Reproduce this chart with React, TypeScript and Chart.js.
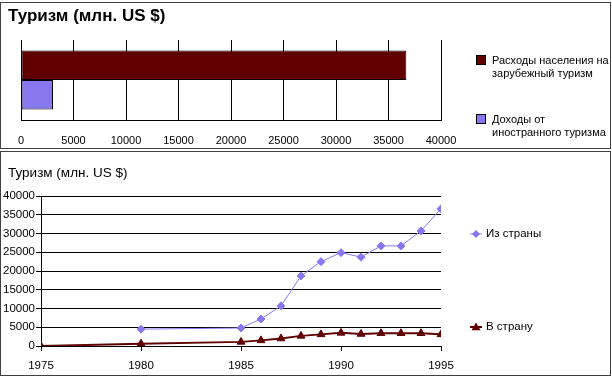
import React, { useEffect, useRef } from "react";
import { Chart, registerables } from "chart.js";

Chart.register(...registerables);

// ---------- data ----------
const TITLE = "Туризм (млн. US $)";

// top chart (horizontal bars)
const BAR_SERIES = [
  ["Расходы населения на", "зарубежный туризм"],
  ["Доходы от", "иностранного туризма"],
];
const BAR_VALUES = [36700, 3050];
const BAR_AXIS_MAX = 40000;
const BAR_AXIS_STEP = 5000;

// bottom chart (lines)
const LINE_SERIES = ["Из страны", "В страну"];
const OUT_YEARS = [1980, 1985, 1986, 1987, 1988, 1989, 1990, 1991, 1992, 1993, 1994, 1995];
const OUT_VALUES = [4500, 4800, 7200, 10700, 18700, 22500, 24900, 23700, 26700, 26700, 30700, 36600];
const IN_YEARS = [1975, 1980, 1985, 1986, 1987, 1988, 1989, 1990, 1991, 1992, 1993, 1994, 1995];
const IN_VALUES = [0, 600, 1100, 1500, 2000, 2700, 3100, 3500, 3200, 3400, 3400, 3400, 3100];
const YEAR_MIN = 1975;
const YEAR_MAX = 1995;
const YEAR_STEP = 5;
const LINE_Y_MAX = 40000;
const LINE_Y_STEP = 5000;

// ---------- style ----------
const FONT = "'Liberation Sans', Arial, Helvetica, sans-serif";
const PURPLE = "#8878f0";
const MAROON = "#600000";
const BORDER = "#404040";

Chart.defaults.font.family = FONT;
Chart.defaults.color = "#000";

function drawMarker(ctx: CanvasRenderingContext2D, style: string, x: number, y: number, r: number, color: string) {
  ctx.beginPath();
  if (style === "rectRot") {
    ctx.moveTo(x, y - r);
    ctx.lineTo(x + r, y);
    ctx.lineTo(x, y + r);
    ctx.lineTo(x - r, y);
  } else {
    ctx.moveTo(x, y - r);
    ctx.lineTo(x + r, y + r * 0.7);
    ctx.lineTo(x - r, y + r * 0.7);
  }
  ctx.closePath();
  ctx.fillStyle = color;
  ctx.fill();
}

function makeDecor(cfg: any) {
  return {
    id: "decor",
    afterDraw(chart: any) {
      const ctx: CanvasRenderingContext2D = chart.ctx;
      ctx.save();
      ctx.fillStyle = "#000";
      ctx.textAlign = "left";
      ctx.textBaseline = "middle";
      ctx.font = cfg.titleFont;
      ctx.fillText(cfg.title, cfg.titleX, cfg.titleY);
      cfg.items.forEach((it: any, i: number) => {
        const ds = chart.data.datasets[i];
        if (it.kind === "box") {
          ctx.fillStyle = ds.backgroundColor;
          ctx.fillRect(it.x, it.y, 10, 10);
          ctx.strokeStyle = "#000";
          ctx.lineWidth = 1;
          ctx.strokeRect(it.x + 0.5, it.y + 0.5, 9, 9);
        } else {
          ctx.strokeStyle = ds.borderColor;
          ctx.lineWidth = ds.borderWidth;
          ctx.beginPath();
          ctx.moveTo(it.x - 6, it.y);
          ctx.lineTo(it.x + 6, it.y);
          ctx.stroke();
          drawMarker(ctx, ds.pointStyle, it.x, it.y, ds.pointRadius, ds.borderColor);
        }
        ctx.fillStyle = "#000";
        ctx.font = cfg.legendFont;
        ctx.textBaseline = "middle";
        it.lines.forEach((t: string, k: number) => {
          ctx.fillText(t, it.textX, it.textY + k * cfg.lineGap);
        });
      });
      ctx.restore();
    },
  };
}

function BarChart() {
  const ref = useRef<HTMLCanvasElement>(null);
  useEffect(() => {
    const chart = new Chart(ref.current!, {
      type: "bar",
      data: {
        labels: [""],
        datasets: [
          {
            label: BAR_SERIES[0].join(" "),
            data: [BAR_VALUES[0]],
            backgroundColor: MAROON,
            borderColor: "#000",
            borderWidth: 1,
            borderSkipped: false,
            categoryPercentage: 0.74,
            barPercentage: 1,
          },
          {
            label: BAR_SERIES[1].join(" "),
            data: [BAR_VALUES[1]],
            backgroundColor: PURPLE,
            borderColor: "#000",
            borderWidth: 1,
            borderSkipped: false,
            categoryPercentage: 0.74,
            barPercentage: 1,
          },
        ],
      },
      options: {
        indexAxis: "y",
        responsive: false,
        animation: false,
        layout: { padding: { left: 21, right: 171, top: 40, bottom: 0 } },
        plugins: {
          legend: { display: false },
          title: { display: false },
          tooltip: { enabled: false },
        },
        scales: {
          x: {
            min: 0,
            max: BAR_AXIS_MAX,
            ticks: {
              stepSize: BAR_AXIS_STEP,
              padding: 14,
              color: "#000",
              font: { size: 11 },
              maxRotation: 0,
              callback: (v: any) => String(v),
            },
            grid: { color: "#000", drawTicks: false },
            border: { color: "#000" },
            afterFit: (s: any) => {
              s.height = 30;
            },
          },
          y: { display: false },
        },
      },
      plugins: [
        makeDecor({
          title: TITLE,
          titleFont: `bold 17px ${FONT}`,
          titleX: 8,
          titleY: 16,
          legendFont: `11px ${FONT}`,
          lineGap: 13,
          items: [
            { kind: "box", x: 476, y: 55, textX: 492, textY: 61, lines: BAR_SERIES[0] },
            { kind: "box", x: 476, y: 114, textX: 492, textY: 120, lines: BAR_SERIES[1] },
          ],
        }),
      ],
    } as any);
    return () => chart.destroy();
  }, []);
  return (
    <canvas
      ref={ref}
      width={612}
      height={150}
      style={{ position: "absolute", left: 0, top: 0, width: 612, height: 150 }}
    />
  );
}

function LineChart() {
  const ref = useRef<HTMLCanvasElement>(null);
  useEffect(() => {
    const chart = new Chart(ref.current!, {
      type: "line",
      data: {
        datasets: [
          {
            label: LINE_SERIES[0],
            data: OUT_YEARS.map((x, i) => ({ x, y: OUT_VALUES[i] })),
            borderColor: PURPLE,
            backgroundColor: PURPLE,
            borderWidth: 1,
            pointStyle: "rectRot",
            pointRadius: 4,
            pointBorderWidth: 1,
            tension: 0,
          },
          {
            label: LINE_SERIES[1],
            data: IN_YEARS.map((x, i) => ({ x, y: IN_VALUES[i] })),
            borderColor: MAROON,
            backgroundColor: MAROON,
            borderWidth: 2,
            pointStyle: "triangle",
            pointRadius: 4.5,
            pointBorderWidth: 1,
            tension: 0,
          },
        ],
      },
      options: {
        responsive: false,
        animation: false,
        layout: { padding: { left: 0, right: 171, top: 46, bottom: 0 } },
        plugins: {
          legend: { display: false },
          title: { display: false },
          tooltip: { enabled: false },
        },
        scales: {
          x: {
            type: "linear",
            min: YEAR_MIN,
            max: YEAR_MAX,
            ticks: {
              stepSize: YEAR_STEP,
              padding: 8,
              color: "#000",
              font: { size: 11.5 },
              maxRotation: 0,
              callback: (v: any) => String(v),
            },
            grid: { drawOnChartArea: false, color: "#000", tickLength: 5 },
            border: { color: "#000" },
            afterFit: (s: any) => {
              s.height = 31;
            },
          },
          y: {
            min: 0,
            max: LINE_Y_MAX,
            ticks: {
              stepSize: LINE_Y_STEP,
              padding: 1,
              color: "#000",
              font: { size: 11.5 },
              callback: (v: any) => String(v),
            },
            grid: { color: "#000", tickLength: 5 },
            border: { color: "#000" },
            afterFit: (s: any) => {
              s.width = 41;
            },
          },
        },
      },
      plugins: [
        makeDecor({
          title: TITLE,
          titleFont: `13.5px ${FONT}`,
          titleX: 8,
          titleY: 23,
          legendFont: `11.5px ${FONT}`,
          lineGap: 13,
          items: [
            { kind: "line", x: 476, y: 84, textX: 486, textY: 84, lines: [LINE_SERIES[0]] },
            { kind: "line", x: 476, y: 177, textX: 486, textY: 177, lines: [LINE_SERIES[1]] },
          ],
        }),
      ],
    } as any);
    return () => chart.destroy();
  }, []);
  return (
    <canvas
      ref={ref}
      width={612}
      height={227}
      style={{ position: "absolute", left: 0, top: 150, width: 612, height: 227 }}
    />
  );
}

export default function App() {
  const panel = (top: number, height: number): React.CSSProperties => ({
    position: "absolute",
    left: 0,
    top,
    width: 611,
    height,
    boxSizing: "border-box",
    border: `1px solid ${BORDER}`,
    pointerEvents: "none",
    zIndex: 2,
  });
  return (
    <div
      style={{
        position: "fixed",
        left: 0,
        top: 0,
        width: 612,
        height: 377,
        background: "#fff",
        overflow: "hidden",
        fontFamily: FONT,
      }}
    >
      <BarChart />
      <LineChart />
      <div style={panel(2, 147)} />
      <div style={panel(151, 225)} />
    </div>
  );
}
